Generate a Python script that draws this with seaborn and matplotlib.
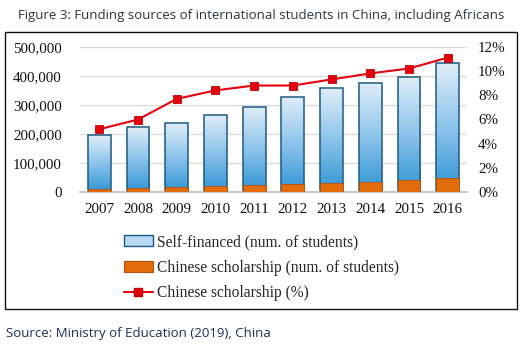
import matplotlib
matplotlib.use("Agg")
import matplotlib.pyplot as plt
import matplotlib.patches as mpatches
from matplotlib.lines import Line2D
from matplotlib.ticker import FuncFormatter
import numpy as np
import pandas as pd
import seaborn as sns

# data
years = ["2007", "2008", "2009", "2010", "2011", "2012", "2013", "2014", "2015", "2016"]
self_financed = [185352, 209983, 219939, 242700, 266924, 299562, 323177, 340111, 357035, 393751]
scholarship = [10151, 13516, 18245, 22390, 25687, 28768, 33322, 36943, 40600, 49022]
scholarship_pct = [5.2, 6.0, 7.7, 8.4, 8.8, 8.8, 9.3, 9.8, 10.2, 11.1]

df = pd.DataFrame({"year": years, "self": self_financed, "schol": scholarship, "pct": scholarship_pct})
df["total"] = df["self"] + df["schol"]

sns.set_theme(style="white")
plt.rcParams["font.family"] = ["Liberation Serif", "DejaVu Serif"]

fig = plt.figure(figsize=(5.26, 3.49), dpi=100)
ax = fig.add_axes([80 / 526, 1 - 192.3 / 349, 387 / 526, 145.6 / 349])

blue_edge = "#1d5a82"
orange = "#e36c0a"
red = "#e3000f"

sns.barplot(data=df, x="year", y="total", color="#9cc9ec", width=0.59,
            edgecolor=blue_edge, linewidth=1.1, saturation=1, ax=ax, zorder=2)
blue_bars = list(ax.patches)

# vertical gradient inside each blue bar
grad = np.linspace(0, 1, 256).reshape(-1, 1)
cmap = matplotlib.colors.LinearSegmentedColormap.from_list("g", ["#2f94d5", "#8cc3ea", "#e0eef9"])
for p in blue_bars:
    x0, y0 = p.get_x(), p.get_y()
    w, h = p.get_width(), p.get_height()
    im = ax.imshow(grad, extent=[x0, x0 + w, y0, y0 + h], origin="lower",
                   cmap=cmap, aspect="auto", zorder=2.1)
    im.set_clip_path(p)
    p.set_facecolor("none")
    p.set_zorder(2.2)

sns.barplot(data=df, x="year", y="schol", color=orange, width=0.59,
            edgecolor="#b5520a", linewidth=0.6, saturation=1, ax=ax, zorder=3)

ax.set_xlim(-0.5, 9.5)
ax.set_ylim(0, 500000)
ax.set_yticks(range(0, 500001, 100000))
ax.yaxis.set_major_formatter(FuncFormatter(lambda v, _: f"{int(v):,}"))
ax.set_xlabel("")
ax.set_ylabel("")
ax.grid(axis="y", color="#d9d9d9", lw=0.9, zorder=0)
ax.set_axisbelow(True)
for s in ["top", "left", "right"]:
    ax.spines[s].set_visible(False)
ax.spines["bottom"].set_color("#bfbfbf")
ax.tick_params(axis="y", length=0, pad=13, labelsize=10.8, colors="#111111")
ax.tick_params(axis="x", length=0, pad=8, labelsize=10.8, colors="#111111")

ax2 = ax.twinx()
sns.lineplot(x=np.arange(len(years)), y=df["pct"], ax=ax2, color=red, lw=1.5,
             marker="s", markersize=6, markerfacecolor=red, markeredgecolor="#c00000",
             markeredgewidth=0.6, zorder=5)
ax2.set_ylim(0, 12)
ax2.set_yticks(range(0, 13, 2))
ax2.yaxis.set_major_formatter(FuncFormatter(lambda v, _: f"{int(v)}%"))
ax2.set_ylabel("")
for s in ax2.spines.values():
    s.set_visible(False)
ax2.tick_params(axis="y", length=0, pad=8, labelsize=10.8, colors="#111111")

# legend
h1 = mpatches.Patch(facecolor="#b6d8f2", edgecolor=blue_edge, lw=1)
h2 = mpatches.Patch(facecolor=orange, edgecolor="#b5520a", lw=0.8)
h3 = Line2D([], [], color=red, lw=1.5, marker="s", markersize=6,
            markerfacecolor=red, markeredgecolor="#c00000")
fig.legend([h1, h2, h3],
           ["Self-financed (num. of students)", "Chinese scholarship (num. of students)",
            "Chinese scholarship (%)"],
           loc="upper left", bbox_to_anchor=(124 / 526, 1 - 234 / 349), frameon=False,
           fontsize=11.2, handlelength=1.85, handleheight=0.7, handletextpad=0.3,
           labelspacing=0.62, borderpad=0, borderaxespad=0)

# outer frame
fig.patches.append(mpatches.Rectangle((5 / 526, 1 - 309 / 349), 512 / 526, 277 / 349,
                                      transform=fig.transFigure, fill=False,
                                      edgecolor="#111111", lw=1.0))

fig.text(261 / 526, 1 - 15 / 349,
         "Figure 3: Funding sources of international students in China, including Africans",
         ha="center", va="center", fontsize=9.5, color="#2e3440", family=["Open Sans", "DejaVu Sans"])
fig.text(6 / 526, 1 - 333 / 349, "Source: Ministry of Education (2019), China",
         ha="left", va="center", fontsize=9.5, color="#1f2f5c", family=["Open Sans", "DejaVu Sans"])

fig.savefig("out.png", dpi=100)
